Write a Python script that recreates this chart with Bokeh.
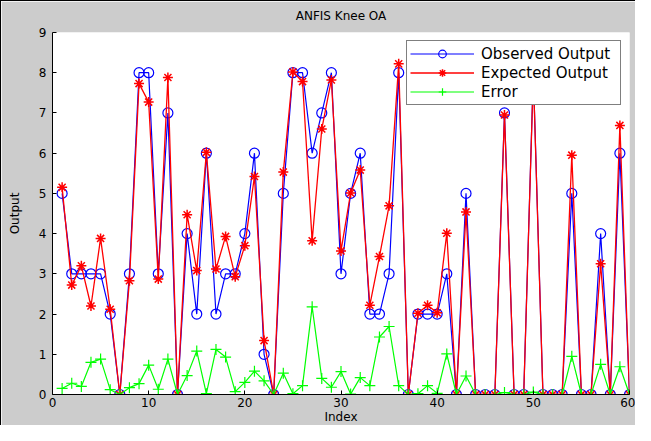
from bokeh.plotting import figure
from bokeh.models import ColumnDataSource, Legend, LegendItem, FixedTicker
from bokeh.embed import file_html
from bokeh.resources import INLINE

index = list(range(1, 61))
observed = [5, 3, 3, 3, 3, 2, 0, 3, 8, 8,
            3, 7, 0, 4, 2, 6, 2, 3, 3, 4,
            6, 1, 0, 5, 8, 8, 6, 7, 8, 3,
            5, 6, 2, 2, 3, 8, 0, 2, 2, 2,
            3, 0, 5, 0, 0, 0, 7, 0, 0, 8,
            0, 0, 0, 5, 0, 0, 4, 0, 6, 0]
expected = [5.15, 2.72, 3.2, 2.2, 3.88, 2.12, 0.0, 2.83, 7.73, 7.27,
            2.87, 7.88, 0.0, 4.47, 3.08, 6.02, 3.12, 3.93, 2.93, 3.7,
            5.42, 1.34, 0.0, 5.53, 8.02, 7.78, 3.82, 6.6, 7.82, 3.57,
            5.01, 5.58, 2.22, 3.43, 4.69, 8.22, 0.0, 2.02, 2.22, 2.03,
            4.01, 0.0, 4.54, 0.0, 0.0, 0.0, 6.95, 0.0, 0.0, 7.94,
            0.0, 0.0, 0.0, 5.95, 0.0, 0.0, 3.25, 0.0, 6.69, 0.0]
error = [0.15, 0.28, 0.2, 0.8, 0.88, 0.12, 0.0, 0.17, 0.27, 0.73,
         0.13, 0.88, 0.0, 0.47, 1.08, 0.02, 1.12, 0.93, 0.07, 0.3,
         0.58, 0.34, 0.0, 0.53, 0.02, 0.22, 2.18, 0.4, 0.18, 0.57,
         0.01, 0.42, 0.22, 1.43, 1.69, 0.22, 0.0, 0.02, 0.22, 0.03,
         1.01, 0.0, 0.46, 0.0, 0.0, 0.0, 0.05, 0.0, 0.0, 0.06,
         0.0, 0.0, 0.0, 0.95, 0.0, 0.0, 0.75, 0.0, 0.69, 0.0]
x_ticks = [0, 10, 20, 30, 40, 50, 60]
y_ticks = [0, 1, 2, 3, 4, 5, 6, 7, 8, 9]
title_text = "ANFIS Knee OA"
x_label = "Index"
y_label = "Output"

src = ColumnDataSource(dict(x=index, obs=observed, exp=expected, err=error))

FONT = "DejaVu Sans"
GRAY = "#cccccc"

p = figure(width=635, height=425, output_backend="svg", toolbar_location=None,
           x_range=(0, 60), y_range=(0, 9), title=title_text,
           min_border_left=51, min_border_right=7, min_border_top=31, min_border_bottom=31,
           background_fill_color="white", border_fill_color=GRAY,
           styles={"border-left": "1px solid #000", "border-top": "1px solid #000"})
p.outline_line_color = None
p.grid.visible = False

p.title.align = "center"
p.title.vertical_align = "top"
p.title.text_font = FONT
p.title.text_font_size = "12px"
p.title.text_font_style = "normal"
p.title.text_color = "black"
p.title.standoff = 15

for ax in (p.xaxis[0], p.yaxis[0]):
    ax.major_tick_in = 4
    ax.major_tick_out = 0
    ax.minor_tick_in = 0
    ax.minor_tick_out = 0
    ax.major_label_text_font = FONT
    ax.major_label_text_font_size = "12px"
    ax.major_label_text_color = "black"
    ax.axis_label_text_font = FONT
    ax.axis_label_text_font_size = "12px"
    ax.axis_label_text_font_style = "normal"
    ax.axis_label_text_color = "black"
    ax.axis_line_color = "black"
    ax.major_tick_line_color = "black"

p.xaxis.ticker = FixedTicker(ticks=x_ticks)
p.yaxis.ticker = FixedTicker(ticks=y_ticks)
p.xaxis.axis_label = x_label
p.yaxis.axis_label = y_label
p.xaxis.major_label_standoff = 3
p.xaxis.axis_label_standoff = 0
p.yaxis.major_label_standoff = 6
p.yaxis.axis_label_standoff = 14

l1 = p.line("x", "obs", source=src, line_color="#0000ff", line_width=1.2)
m1 = p.scatter("x", "obs", source=src, marker="circle", size=10, fill_color=None,
               line_color="#0000ff", line_width=1.2)
l2 = p.line("x", "exp", source=src, line_color="#ff0000", line_width=1.3)
m2 = p.scatter("x", "exp", source=src, marker="asterisk", size=10,
               line_color="#ff0000", line_width=1.5)
l3 = p.line("x", "err", source=src, line_color="#00ff00", line_width=1.2)
m3 = p.scatter("x", "err", source=src, marker="cross", size=11,
               line_color="#00ff00", line_width=1.2)

legend = Legend(items=[
    LegendItem(label="Observed Output", renderers=[l1, m1]),
    LegendItem(label="Expected Output", renderers=[l2, m2]),
    LegendItem(label="Error", renderers=[l3, m3]),
], location="top_right")
legend.margin = 8
legend.padding = 3
legend.spacing = 0
legend.glyph_width = 64
legend.glyph_height = 19
legend.label_height = 19
legend.label_width = 136
legend.label_standoff = 7
legend.label_text_font = FONT
legend.label_text_font_size = "15px"
legend.label_text_color = "black"
legend.border_line_color = "black"
legend.border_line_width = 1
legend.background_fill_color = "white"
legend.background_fill_alpha = 1.0
p.add_layout(legend, "center")

open("out.html", "w").write(file_html(p, INLINE))
